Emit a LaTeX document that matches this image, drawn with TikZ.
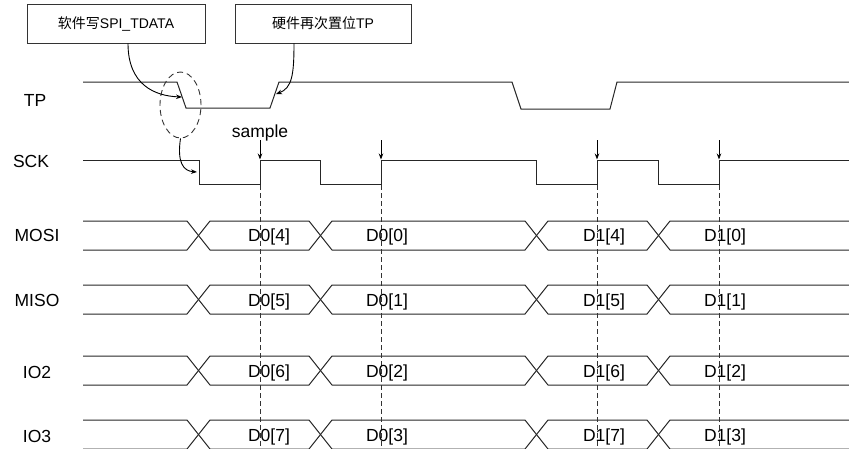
\documentclass[tikz,border=0pt]{standalone}
\usepackage{fontspec}
\setmainfont{Liberation Sans}
\newfontfamily\cjk{Noto Sans CJK SC}
\usetikzlibrary{arrows.meta,shapes.geometric}
\tikzset{
  wave/.style={draw=black!85, line width=1pt},
  guide/.style={draw=black!80, line width=0.9pt, dash pattern=on 5pt off 3pt},
  note/.style={draw=black!80, line width=0.9pt, fill=white, minimum width=178pt, minimum height=39pt, inner sep=0pt, font=\fontsize{14}{16}\selectfont},
  sig/.style={font=\fontsize{17.5}{20}\selectfont, inner sep=0pt},
  dat/.style={font=\fontsize{17.5}{20}\selectfont, inner sep=0pt},
  conn/.style={draw=black, line width=0.9pt, -{Stealth[length=6pt,width=4.5pt]}},
}
\begin{document}
\begin{tikzpicture}[x=1pt,y=-1pt]
\useasboundingbox (0,0) rectangle (849,448);
\clip (0,0) rectangle (849,448);
% annotation boxes
\node[note] (b1) at (116,23.5) {{\cjk 软件写}SPI\_TDATA};
\node[note, minimum width=176pt] (b2) at (323,23.5) {{\cjk 硬件再次置位}TP};
% signal names
\node[sig] (lTP) at (35,100) {TP};
\node[sig] (lSCK) at (31,161) {SCK};
\node[sig] (lMOSI) at (37,235) {MOSI};
\node[sig] (lMISO) at (37,300) {MISO};
\node[sig] (lIO2) at (37,372) {IO2};
\node[sig] (lIO3) at (37,436) {IO3};
% TP
\draw[wave] (83,82) -- (177,82) -- (186,108) -- (270,108) -- (279,82) -- (512,82) -- (521,109) -- (610,109) -- (617,82) -- (849,82);
% SCK
\draw[wave] (83,160) -- (199,160) -- (199,184) -- (260,184) -- (260,160) -- (320,160) -- (320,184) -- (381,184) -- (381,160)
  -- (536,160) -- (536,184) -- (597,184) -- (597,160) -- (658,160) -- (658,184) -- (719,184) -- (719,160) -- (849,160);
% buses
\foreach \t in {221,285,356,420}{
  \pgfmathsetmacro{\b}{\t+29}
  \draw[wave] (83,\t) -- (187,\t) -- (210,\b) -- (309,\b) -- (332,\t) -- (525,\t) -- (548,\b) -- (647,\b) -- (670,\t) -- (849,\t);
  \draw[wave] (83,\b) -- (187,\b) -- (210,\t) -- (309,\t) -- (332,\b) -- (525,\b) -- (548,\t) -- (647,\t) -- (670,\b) -- (849,\b);
}
% sample markers
\node[font=\fontsize{17.5}{20}\selectfont, inner sep=0pt] (smp) at (260,133) {sample};
\foreach \x/\n in {260/s1,381/s2,597/s3,719/s4}{
  \coordinate (\n t) at (\x,140);
  \coordinate (\n e) at (\x,159.5);
  \draw[conn] (\n t) -- (\n e);
  \draw[guide] (\x,185) -- (\x,449);
}
% data labels
\foreach \y/\a/\b/\c/\d in {237/4/0/4/0, 302/5/1/5/1, 373/6/2/6/2, 437/7/3/7/3}{
  \node[dat] at (269,\y) {D0[\a]};
  \node[dat] at (387,\y) {D0[\b]};
  \node[dat] at (604,\y) {D1[\c]};
  \node[dat] at (725,\y) {D1[\d]};
}
% ellipse
\node[draw=black!80, line width=0.9pt, dash pattern=on 6pt off 4pt, ellipse, minimum width=41pt, minimum height=66pt, inner sep=0pt] (ell) at (180.5,105) {};
% connectors
\coordinate (tpfall) at (182,97);
\coordinate (tprise) at (276,94);
\coordinate (sckfall) at (197,172);
\draw[conn] (b1.south -| 128,0) .. controls (128,85) and (155,96) .. (tpfall);
\draw[conn] (b2.south -| 294,0) .. controls (294,75) and (292,88) .. (tprise);
\draw[conn] (ell.south) .. controls (177,162) and (183,171) .. (sckfall);
\end{tikzpicture}
\end{document}
